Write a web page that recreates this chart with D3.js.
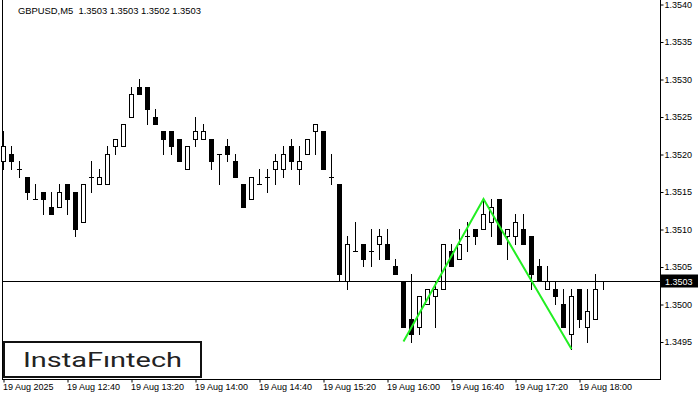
<!DOCTYPE html>
<html>
<head>
<meta charset="utf-8">
<script src="https://cdn.jsdelivr.net/npm/d3@7"></script>
<style>
  body { margin: 0; background: #fff; }
  svg { display: block; }
  text { font-family: "Liberation Sans", Arial, sans-serif; }
</style>
</head>
<body>
<svg id="chart" width="700" height="400"></svg>
<script>
// ---------- data ----------
const headerText = "GBPUSD,M5  1.3503 1.3503 1.3502 1.3503";
const startTime = "2025-08-19 12:00";
const barMinutes = 5;
const opens  = [1.3519,1.3520,1.3518,1.3517,1.3514,1.3515,1.3513,1.3513,1.3516,1.3515,
                1.3511,1.3517,1.3516,1.3516,1.3521,1.3521,1.3525,1.3529,1.3529,1.3525,
                1.3523,1.3523,1.3522,1.3518,1.3522,1.3522,1.3522,1.3520,1.3521,1.3519,
                1.3516,1.3514,1.3516,1.3517,1.3518,1.3518,1.3521,1.3518,1.3520,1.3523,
                1.3523,1.3517,1.3516,1.3503,1.3507,1.3508,1.3507,1.3508,1.3508,1.3505,
                1.3503,1.3498,1.3497,1.3500,1.3501,1.3502,1.3507,1.3506,1.3509,1.3510,
                1.3510,1.3511,1.3514,1.3509,1.3509,1.3510,1.3509,1.3505,1.3502,1.3502,
                1.3500,1.3496,1.3502,1.3497,1.3498,1.3503];
const highs  = [1.3523,1.3521,1.3519,1.3517,1.3516,1.3515,1.3515,1.3516,1.3516,1.3515,
                1.3516,1.3519,1.3518,1.3521,1.3522,1.3524,1.3529,1.3530,1.3529,1.3526,
                1.3523,1.3523,1.3522,1.3521,1.3525,1.3524,1.3522,1.3520,1.3522,1.3520,
                1.3516,1.3517,1.3518,1.3518,1.3520,1.3521,1.3522,1.3521,1.3522,1.3524,
                1.3523,1.3520,1.3516,1.3509,1.3511,1.3508,1.3510,1.3510,1.3510,1.3506,
                1.3503,1.3504,1.3501,1.3502,1.3503,1.3508,1.3508,1.3510,1.3511,1.3510,
                1.3514,1.3514,1.3514,1.3510,1.3512,1.3512,1.3509,1.3506,1.3505,1.3503,
                1.3502,1.3502,1.3502,1.3502,1.3504,1.3503];
const lows   = [1.3518,1.3518,1.3517,1.3514,1.3514,1.3512,1.3512,1.3513,1.3512,1.3509,
                1.3511,1.3515,1.3516,1.3516,1.3520,1.3521,1.3525,1.3528,1.3524,1.3524,
                1.3520,1.3520,1.3519,1.3518,1.3521,1.3522,1.3518,1.3516,1.3519,1.3517,
                1.3513,1.3514,1.3516,1.3515,1.3516,1.3517,1.3518,1.3516,1.3520,1.3520,
                1.3518,1.3516,1.3503,1.3502,1.3507,1.3505,1.3505,1.3506,1.3506,1.3504,
                1.3497,1.3495,1.3496,1.3500,1.3497,1.3502,1.3505,1.3506,1.3507,1.3508,
                1.3510,1.3509,1.3508,1.3506,1.3508,1.3508,1.3502,1.3503,1.3502,1.3500,
                1.3497,1.3494,1.3497,1.3495,1.3498,1.3502];
const closes = [1.3521,1.3519,1.3518,1.3515,1.3514,1.3514,1.3512,1.3515,1.3514,1.3510,
                1.3516,1.3517,1.3517,1.3520,1.3522,1.3524,1.3528,1.3528,1.3526,1.3524,
                1.3522,1.3521,1.3519,1.3521,1.3523,1.3523,1.3519,1.3520,1.3520,1.3517,
                1.3513,1.3517,1.3516,1.3517,1.3519,1.3520,1.3519,1.3519,1.3522,1.3524,
                1.3518,1.3517,1.3504,1.3508,1.3507,1.3506,1.3507,1.3509,1.3506,1.3504,
                1.3497,1.3496,1.3501,1.3502,1.3502,1.3508,1.3505,1.3508,1.3509,1.3509,
                1.3512,1.3513,1.3508,1.3510,1.3511,1.3508,1.3504,1.3503,1.3503,1.3501,
                1.3497,1.3501,1.3498,1.3499,1.3502,1.3503];
const priceTicks = [1.3540,1.3535,1.3530,1.3525,1.3520,1.3515,1.3510,1.3505,1.3500,1.3495];
const timeTicks  = ["12:00","12:40","13:20","14:00","14:40","15:20","16:00","16:40","17:20","18:00"];
const timeTickLabels = ["19 Aug 2025","19 Aug 12:40","19 Aug 13:20","19 Aug 14:00","19 Aug 14:40",
                        "19 Aug 15:20","19 Aug 16:00","19 Aug 16:40","19 Aug 17:20","19 Aug 18:00"];
const lastPrice = 1.3503;
const patternTimes  = ["16:10","17:00","17:55"];
const patternPrices = [1.3495,1.3514,1.3494];
const logoText = "InstaF\u0131ntech";

// ---------- setup ----------
const parseFull = d3.timeParse("%Y-%m-%d %H:%M");
const t0 = parseFull(startTime);
const atTime = hm => parseFull("2025-08-19 " + hm);
const bars = opens.map((o, i) => ({
  t: d3.timeMinute.offset(t0, i * barMinutes),
  o, h: highs[i], l: lows[i], c: closes[i]
}));

const svg = d3.select("#chart");
const frame = { left: 2.5, right: 660.5, top: -1, bottom: 379.5 };

const x = d3.scaleTime()
  .domain([t0, bars[bars.length - 1].t])
  .range([3.5, 3.5 + 8 * (bars.length - 1)]);
const y = d3.scaleLinear().domain([1.3495, 1.3540]).range([341.5, 4]);
const py = p => Math.round(y(p));

// frame
svg.append("rect")
  .attr("x", frame.left).attr("y", frame.top)
  .attr("width", frame.right - frame.left).attr("height", frame.bottom - frame.top)
  .attr("fill", "none").attr("stroke", "#000").attr("stroke-width", 1);

// price axis (right)
const yAxis = d3.axisRight(y).tickValues(priceTicks).tickSize(3).tickFormat(d3.format(".4f"));
const gy = svg.append("g").attr("transform", `translate(${frame.right},0.5)`).call(yAxis);
gy.select(".domain").remove();
gy.selectAll(".tick line").attr("stroke", "#000");
gy.selectAll(".tick text").attr("x", 4).attr("dy", "0.33em")
  .attr("font-size", 9).attr("fill", "#000")
  .style("font-family", '"Liberation Sans", Arial, sans-serif');

// time axis (bottom)
const xAxis = d3.axisBottom(x).tickValues(timeTicks.map(atTime)).tickSize(3)
  .tickFormat((d, i) => timeTickLabels[i]);
const gx = svg.append("g").attr("transform", `translate(0,${frame.bottom})`).call(xAxis);
gx.select(".domain").remove();
gx.selectAll(".tick line").attr("stroke", "#000");
gx.selectAll(".tick text").attr("text-anchor", "start").attr("x", -1).attr("y", 4).attr("dy", "0.71em")
  .attr("font-size", 9).attr("fill", "#000")
  .style("font-family", '"Liberation Sans", Arial, sans-serif');

// header
svg.append("text").attr("x", 18).attr("y", 14)
  .attr("font-size", 9.4).attr("fill", "#000").style("white-space", "pre")
  .text(headerText);

// candles
const g = svg.append("g");
bars.forEach(b => {
  const cx = x(b.t);
  g.append("line").attr("x1", cx).attr("x2", cx)
    .attr("y1", py(b.h)).attr("y2", py(b.l) + 1)
    .attr("stroke", "#000").attr("stroke-width", 1);
  const top = py(Math.max(b.o, b.c)), bot = py(Math.min(b.o, b.c));
  if (top === bot) {
    g.append("line").attr("x1", cx - 2.5).attr("x2", cx + 2.5)
      .attr("y1", top + 0.5).attr("y2", top + 0.5)
      .attr("stroke", "#000").attr("stroke-width", 1);
  } else {
    g.append("rect").attr("x", cx - 2).attr("y", top + 0.5)
      .attr("width", 4).attr("height", bot - top)
      .attr("fill", b.c >= b.o ? "#fff" : "#000")
      .attr("stroke", "#000").attr("stroke-width", 1);
  }
});

// last price line
const ly = Math.floor(y(lastPrice)) + 0.5;
svg.append("line").attr("x1", frame.left).attr("x2", frame.right)
  .attr("y1", ly).attr("y2", ly).attr("stroke", "#000").attr("stroke-width", 1);
svg.append("rect").attr("x", 661).attr("y", ly - 7).attr("width", 37).attr("height", 13).attr("fill", "#000");
svg.append("text").attr("x", 665).attr("y", ly + 3.5)
  .attr("font-size", 9).attr("fill", "#fff").text(d3.format(".4f")(lastPrice));

// pattern line
const line = d3.line().x(d => x(d.t)).y(d => y(d.p));
svg.append("path")
  .datum(patternTimes.map((t, i) => ({ t: atTime(t), p: patternPrices[i] })))
  .attr("d", line).attr("fill", "none")
  .attr("stroke", "#22ee22").attr("stroke-width", 2).attr("stroke-linejoin", "miter");

// logo
svg.append("rect").attr("x", 4).attr("y", 342).attr("width", 197).attr("height", 35)
  .attr("fill", "#fff").attr("stroke", "#111").attr("stroke-width", 2);
svg.append("text").attr("x", 23).attr("y", 367)
  .attr("font-size", 21).attr("fill", "#222")
  .attr("textLength", 159).attr("lengthAdjust", "spacingAndGlyphs")
  .style("font-family", "Roboto, sans-serif").style("font-weight", 400)
  .text(logoText);
</script>
</body>
</html>
